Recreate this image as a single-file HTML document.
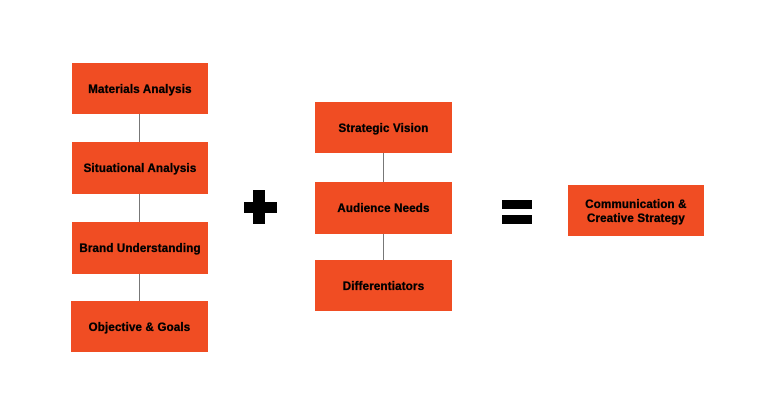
<!DOCTYPE html>
<html><head><style>
body{margin:0;width:768px;height:411px;background:#fff;position:relative;overflow:hidden;font-family:"Liberation Sans",sans-serif;}
.b{position:absolute;background:#f04d23;display:flex;align-items:center;justify-content:center;text-align:center;font-weight:bold;font-size:11.5px;color:#000;letter-spacing:0.2px;line-height:14px;padding-top:2px;box-sizing:border-box;-webkit-text-stroke:0.35px #000;}
.l{position:absolute;width:1px;background:#777;}
.k{position:absolute;background:#000;}
</style></head><body>
<div class="b" style="left:72px;top:63px;width:136px;height:51px">Materials Analysis</div>
<div class="b" style="left:72px;top:142px;width:136px;height:52px">Situational Analysis</div>
<div class="b" style="left:72px;top:222px;width:136px;height:52px">Brand Understanding</div>
<div class="b" style="left:71px;top:301px;width:137px;height:51px">Objective &amp; Goals</div>
<div class="l" style="left:139px;top:114px;height:28px"></div>
<div class="l" style="left:139px;top:194px;height:28px"></div>
<div class="l" style="left:139px;top:274px;height:27px"></div>

<div class="k" style="left:244px;top:202px;width:33px;height:11px"></div>
<div class="k" style="left:253px;top:190px;width:12px;height:34px"></div>

<div class="b" style="left:315px;top:102px;width:137px;height:51px">Strategic Vision</div>
<div class="b" style="left:315px;top:182px;width:137px;height:52px">Audience Needs</div>
<div class="b" style="left:315px;top:260px;width:137px;height:51px">Differentiators</div>
<div class="l" style="left:383px;top:153px;height:29px"></div>
<div class="l" style="left:383px;top:234px;height:26px"></div>

<div class="k" style="left:502px;top:200px;width:30px;height:9px"></div>
<div class="k" style="left:502px;top:215px;width:30px;height:9px"></div>

<div class="b" style="left:568px;top:185px;width:136px;height:51px">Communication &amp;<br>Creative Strategy</div>
</body></html>
